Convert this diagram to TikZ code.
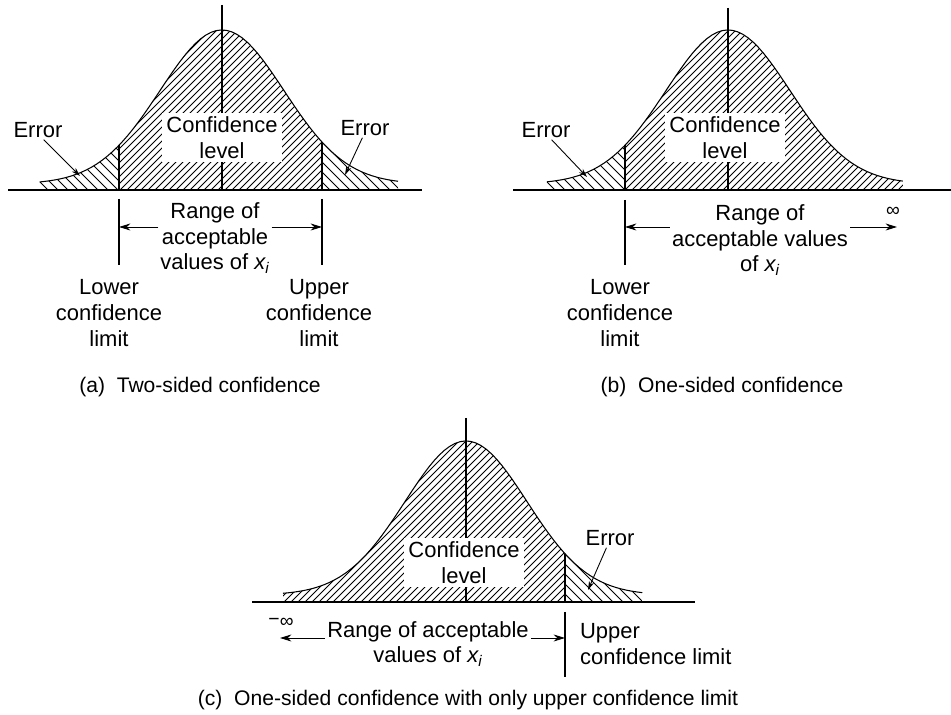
\documentclass[tikz,border=0pt]{standalone}
\usepackage{fontspec}
\setmainfont{Liberation Sans}
\usetikzlibrary{arrows.meta, positioning, calc}

\newcommand{\xsub}{{\itshape x}\textsubscript{\itshape i}}

\tikzset{
  lbl/.style={font=\fontsize{12.5}{14.6}\selectfont, align=center, inner sep=1pt},
  subcap/.style={font=\fontsize{12}{14}\selectfont, inner sep=1pt},
  levelbox/.style={lbl, fill=white, minimum width=68pt, minimum height=28pt},
  infsym/.style={font=\fontsize{11}{11}\selectfont, inner sep=0pt},
  hatch/.style={line width=0.45pt},
  bellline/.style={line width=0.6pt},
  axisline/.style={line width=0.6pt},
  rangearr/.style={line width=0.5pt, -{Stealth[length=6.5pt,width=4pt]}},
  errarr/.style={line width=0.5pt, -{Stealth[length=5pt,width=3pt]}},
}

\begin{document}
\begin{tikzpicture}[x=0.02cm, y=-0.02cm]
\useasboundingbox (0,0) rectangle (951,715);

% (a) two-sided
\begin{scope}
  \clip (40,190) -- plot[domain=-2.94:2.84, samples=70] ({222+62*\x},{184-154*exp(-0.5*(\x)^2)}) -- (398,190) -- cycle;
  \begin{scope}
    \clip (119,0) rectangle (322,200);
    \foreach \h in {-50,-43,...,330} \draw[hatch] (\h,192) -- ++(180,-180);
  \end{scope}
  \begin{scope}
    \clip (0,0) rectangle (119,200);
    \foreach \h in {40,50,...,180} \draw[hatch] (\h,192) -- ++(-180,-180);
  \end{scope}
  \begin{scope}
    \clip (322,0) rectangle (430,200);
    \foreach \h in {322,332,...,470} \draw[hatch] (\h,192) -- ++(-180,-180);
  \end{scope}
\end{scope}
\draw[axisline] (222,5) -- (222,190);
\draw[bellline] plot[domain=-2.94:2.84, samples=70] ({222+62*\x},{184-154*exp(-0.5*(\x)^2)});
\draw[axisline] (119,145.3) -- (119,190) (322,142.1) -- (322,190);
\draw[axisline] (119,199) -- (119,265) (322,199) -- (322,265);
\draw[axisline] (8,190) -- (422,190);

\node[levelbox] (levA) at (222,137.5) {Confidence\\level};
\node[lbl] (errLA) at (38,130) {Error};
\node[lbl] (errRA) at (365,128) {Error};
\coordinate (tailLA) at (80,176);
\coordinate (tailRA) at (345,175);
\draw[errarr] (errLA.-60) -- (tailLA);
\draw[errarr] (errRA.-105) -- (tailRA);

\node[lbl] (rangeA) at (215,238) {Range of\\acceptable\\values of \xsub};
\coordinate (loA) at (119,227);
\coordinate (hiA) at (322,227);
\draw[rangearr] (rangeA.west |- loA) -- (loA);
\draw[rangearr] (rangeA.east |- hiA) -- (hiA);
\node[lbl] (lowA) at (109,313) {Lower\\confidence\\limit};
\node[lbl] (upA) at (319,313) {Upper\\confidence\\limit};
\node[subcap] (capA) at (200,387) {(a)\ \ Two-sided confidence};

% (b) one-sided, lower limit only
\begin{scope}
  \clip (547,190) -- plot[domain=-2.92:2.82, samples=70] ({728+62*\x},{184-154*exp(-0.5*(\x)^2)}) -- (903,190) -- cycle;
  \begin{scope}
    \clip (625,0) rectangle (951,200);
    \foreach \h in {455,462,...,910} \draw[hatch] (\h,192) -- ++(180,-180);
  \end{scope}
  \begin{scope}
    \clip (500,0) rectangle (625,200);
    \foreach \h in {547,557,...,690} \draw[hatch] (\h,192) -- ++(-180,-180);
  \end{scope}
\end{scope}
\draw[axisline] (728,8) -- (728,190);
\draw[bellline] plot[domain=-2.92:2.82, samples=70] ({728+62*\x},{184-154*exp(-0.5*(\x)^2)});
\draw[axisline] (625,145.3) -- (625,190) (625,200) -- (625,265);
\draw[axisline] (513,190) -- (951,190);

\node[levelbox] (levB) at (725,137.5) {Confidence\\level};
\node[lbl] (errB) at (546,130) {Error};
\coordinate (tailB) at (587,177);
\draw[errarr] (errB.-60) -- (tailB);

\node[lbl] (rangeB) at (760,240) {Range of\\acceptable values\\of \xsub};
\coordinate (loB) at (625,227);
\coordinate (infB) at (897,227);
\draw[rangearr] (rangeB.west |- loB) -- (loB);
\draw[rangearr] (rangeB.east |- infB) -- (infB);
\node[infsym] (plusinf) at (893,212) {∞};
\node[lbl] (lowB) at (620,313) {Lower\\confidence\\limit};
\node[subcap] (capB) at (722,387) {(b)\ \ One-sided confidence};

% (c) one-sided, upper limit only
\begin{scope}
  \clip (283,602) -- plot[domain=-3.0:2.89, samples=70] ({466+61*\x},{595-154*exp(-0.5*(\x)^2)}) -- (642,602) -- cycle;
  \begin{scope}
    \clip (250,400) rectangle (565,610);
    \foreach \h in {100,107,...,570} \draw[hatch] (\h,604) -- ++(180,-180);
  \end{scope}
  \begin{scope}
    \clip (565,400) rectangle (700,610);
    \foreach \h in {565,575,...,710} \draw[hatch] (\h,604) -- ++(-180,-180);
  \end{scope}
\end{scope}
\draw[axisline] (466,418) -- (466,602);
\draw[bellline] plot[domain=-3.0:2.89, samples=70] ({466+61*\x},{595-154*exp(-0.5*(\x)^2)});
\draw[axisline] (565,553.7) -- (565,602) (565,612) -- (565,677);
\draw[axisline] (252,602) -- (695,602);

\node[levelbox] (levC) at (464,562.5) {Confidence\\level};
\node[lbl] (errC) at (610,538) {Error};
\coordinate (tailC) at (588,590);
\draw[errarr] (errC.-110) -- (tailC);

\node[lbl] (rangeC) at (428,644) {Range of acceptable\\values of \xsub};
\coordinate (minfC) at (280,638);
\coordinate (hiC) at (565,638);
\draw[rangearr] (rangeC.west |- minfC) -- (minfC);
\draw[rangearr] (rangeC.east |- hiC) -- (hiC);
\node[infsym] (minusinf) at (281,623) {\raisebox{1pt}{−}∞};
\node[lbl, align=left, anchor=west] (upC) at (578,644) {Upper\\confidence limit};
\node[subcap] (capC) at (468,700) {(c)\ \ One-sided confidence with only upper confidence limit};
\end{tikzpicture}
\end{document}
